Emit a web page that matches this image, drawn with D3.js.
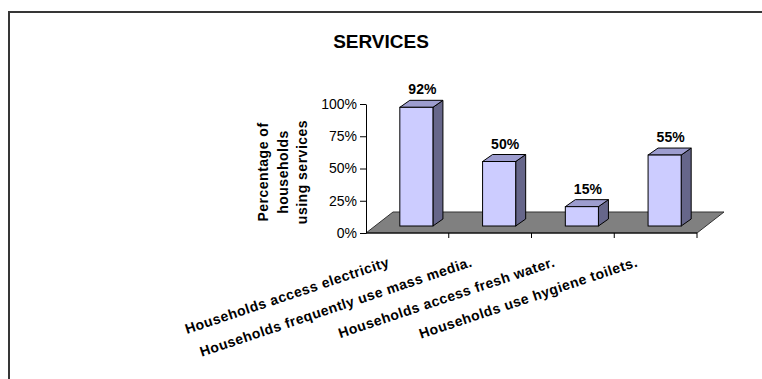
<!DOCTYPE html>
<html>
<head>
<meta charset="utf-8">
<script src="https://cdn.jsdelivr.net/npm/d3@7"></script>
<style>
  html, body { margin: 0; padding: 0; background: #fff; }
  svg { display: block; font-family: "Liberation Sans", Arial, sans-serif; }
</style>
</head>
<body>
<svg id="chart" width="762" height="379"></svg>
<script>
// ---- data ----
const categories = [
  "Households access electricity",
  "Households frequently use mass media.",
  "Households access fresh water.",
  "Households use hygiene toilets."
];
const values = [0.92, 0.50, 0.15, 0.55];
const yTicks = [0, 0.25, 0.5, 0.75, 1];
const titleText = "SERVICES";
const yTitleLines = ["Percentage of", "households", "using services"];

// ---- layout ----
const svg = d3.select("#chart");
const pct = d3.format(".0%");

// outer frame (runs off the right and bottom edges)
svg.append("rect")
  .attr("x", 9).attr("y", 12)
  .attr("width", 800).attr("height", 400)
  .attr("fill", "none").attr("stroke", "#363636").attr("stroke-width", 2);

const x = d3.scaleBand().domain(categories).range([366, 697]);
const y = d3.scaleLinear().domain([0, 1]).range([233, 104]);
const bw = x.bandwidth();

const floorDepth = [27, -21];   // depth of the 3-D floor
const barOffset = [9, -7];      // bars stand a third of the way into the floor
const barDepth = [10, -7];      // thickness of each bar
const barW = bw * 0.4;

// title
svg.append("text")
  .attr("x", 381).attr("y", 48)
  .attr("text-anchor", "middle")
  .attr("font-size", 19).attr("font-weight", "bold")
  .text(titleText);

// floor
const [x0, x1] = x.range();
const y0 = y(0);
svg.append("polygon")
  .attr("points", [
    [x0, y0], [x1, y0],
    [x1 + floorDepth[0], y0 + floorDepth[1]],
    [x0 + floorDepth[0], y0 + floorDepth[1]]
  ].map(p => p.join(",")).join(" "))
  .attr("fill", "#808080").attr("stroke", "#333").attr("stroke-width", 1);

// bars
const bars = svg.append("g").selectAll("g").data(categories).join("g");
bars.each(function (c, i) {
  const g = d3.select(this);
  const fx = x(c) + (bw - barW) / 2 + barOffset[0];
  const yt = y(values[i]) + barOffset[1];
  const yb = y(0) + barOffset[1];
  const pts = a => a.map(p => p.join(",")).join(" ");
  g.append("polygon")
    .attr("points", pts([[fx + barW, yt], [fx + barW + barDepth[0], yt + barDepth[1]],
                         [fx + barW + barDepth[0], yb + barDepth[1]], [fx + barW, yb]]))
    .attr("fill", "#66668a").attr("stroke", "#000").attr("stroke-width", 1)
    .attr("stroke-linejoin", "round");
  g.append("polygon")
    .attr("points", pts([[fx, yt], [fx + barW, yt],
                         [fx + barW + barDepth[0], yt + barDepth[1]], [fx + barDepth[0], yt + barDepth[1]]]))
    .attr("fill", "#9d9dcf").attr("stroke", "#000").attr("stroke-width", 1)
    .attr("stroke-linejoin", "round");
  g.append("rect")
    .attr("x", fx).attr("y", yt)
    .attr("width", barW).attr("height", yb - yt)
    .attr("fill", "#ccccff").attr("stroke", "#000").attr("stroke-width", 1);
  g.append("text")
    .attr("x", fx + barW / 2 + 6).attr("y", yt - 13)
    .attr("text-anchor", "middle")
    .attr("font-size", 14).attr("font-weight", "bold")
    .text(pct(values[i]));
});

// value axis
const yAxis = svg.append("g")
  .attr("transform", `translate(${x0},0)`)
  .call(d3.axisLeft(y).tickValues(yTicks).tickFormat(pct)
        .tickSize(6).tickSizeOuter(0).tickPadding(3));
yAxis.select(".domain").attr("stroke", "#000");
yAxis.selectAll(".tick line").attr("stroke", "#000");
yAxis.selectAll(".tick text")
  .attr("font-family", "Liberation Sans, Arial, sans-serif")
  .attr("font-size", 14).attr("fill", "#000");

// value-axis title
const yTitle = svg.append("text")
  .attr("transform", "translate(268,172) rotate(-90)")
  .attr("text-anchor", "middle")
  .attr("font-size", 14).attr("font-weight", "bold")
  .attr("letter-spacing", 0.5);
yTitle.selectAll("tspan").data(yTitleLines).join("tspan")
  .attr("x", 0).attr("dy", (d, i) => i === 0 ? 0 : 19.5)
  .text(d => d);

// category axis: front edge, tick marks at band boundaries, slanted labels
svg.append("line")
  .attr("x1", x0).attr("x2", x1).attr("y1", y0).attr("y2", y0)
  .attr("stroke", "#000");
svg.append("g").selectAll("line").data(categories).join("line")
  .attr("x1", c => x(c) + bw).attr("x2", c => x(c) + bw)
  .attr("y1", y0).attr("y2", y0 + 5)
  .attr("stroke", "#000");
svg.append("g").selectAll("text").data(categories).join("text")
  .attr("transform", c => `translate(${x(c) + bw / 2 - 17},266) rotate(-18.5)`)
  .attr("text-anchor", "end")
  .attr("font-size", 14).attr("font-weight", "bold")
  .attr("letter-spacing", 0.5)
  .text(c => c);
</script>
</body>
</html>
